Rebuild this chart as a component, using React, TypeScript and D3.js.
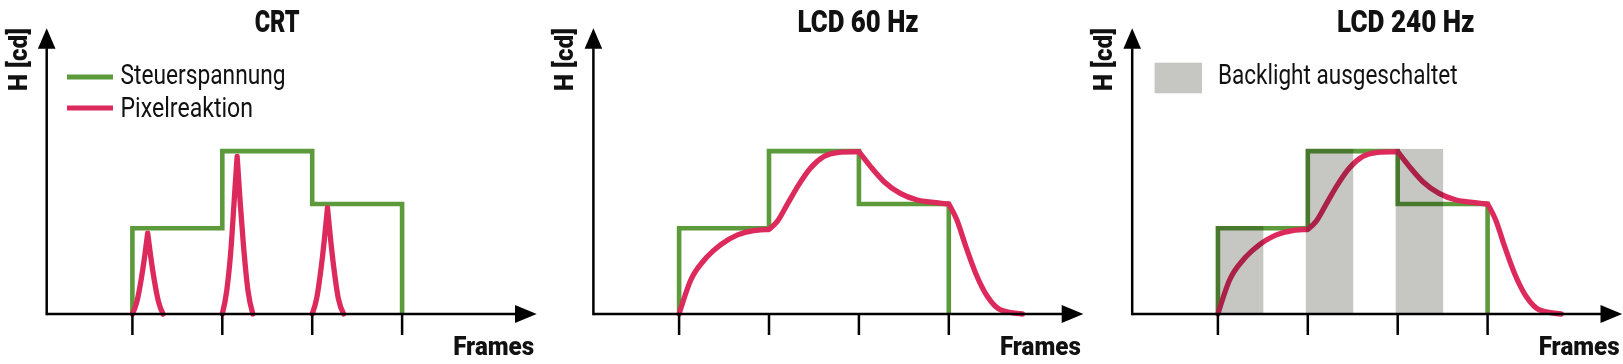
import React from "react";
import * as d3 from "d3";

// ---------- data ----------
const titles = ["CRT", "LCD 60 Hz", "LCD 240 Hz"];
const xLabel = "Frames";
const yLabel = "H [cd]";
const legendLabels = ["Steuerspannung", "Pixelreaktion"];
const backlightLabel = "Backlight ausgeschaltet";

const frameTicks = [1, 2, 3, 4];

// control voltage (step, value holds until next frame)
const steuerFrames = [1, 1, 2, 3, 4];
const steuerValues = [0, 30, 57, 38.5, 0];

// CRT pixel response: short spikes after each frame start (rise / fall segments)
const crtFrames = [
  [1.0, 1.05, 1.1, 1.135, 1.17],
  [1.17, 1.205, 1.24, 1.29, 1.34],
  [2.0, 2.05, 2.1, 2.13, 2.165],
  [2.165, 2.2, 2.235, 2.285, 2.34],
  [3.0, 3.05, 3.1, 3.135, 3.17],
  [3.17, 3.205, 3.24, 3.29, 3.35],
];
const crtValues = [
  [0, 4.3, 12.5, 19.8, 28.3],
  [28.3, 19.8, 12.5, 4.3, 0],
  [0, 8.3, 24.2, 38.6, 55.2],
  [55.2, 38.6, 24.2, 8.3, 0],
  [0, 5.5, 16.3, 26, 37.2],
  [37.2, 26, 16.3, 5.5, 0],
];

// LCD pixel response (same slow response in 60 Hz and 240 Hz)
const lcdFrames = [
  [1.0, 1.13, 1.28, 1.46, 1.65, 1.83, 2.0],
  [2.0, 2.09, 2.2, 2.33, 2.46, 2.61, 2.76, 3.0],
  [3.0, 3.13, 3.28, 3.46, 3.65, 3.83, 4.0],
  [4.0, 4.09, 4.19, 4.3, 4.43, 4.58, 4.82],
];
const lcdValues = [
  [0, 11.9, 18.9, 24.2, 27.7, 29.2, 29.6],
  [29.6, 32.3, 38.2, 45.2, 51.0, 55.1, 56.5, 56.8],
  [56.8, 51.6, 46.3, 42.2, 39.9, 39.1, 38.5],
  [38.5, 32.9, 23.6, 14.2, 6.1, 1.4, 0],
];

// backlight-off intervals (LCD 240 Hz)
const backlightStart = [1, 2, 3];
const backlightEnd = [1.5, 2.5, 3.5];
const backlightValues = [30, 57, 57];

// ---------- layout / style ----------
const W = 1623;
const H = 364;
const panelX = [46.7, 593.4, 1132.2];
const titleOffset = [208, 204.2, 204.9];
const titleLen = [45, 121, 137.4];
const baseY = 314;
const topY = 28.3;
const tick0 = 85.7;
const tickStep = 89.9;
const axisLen = 490;
const GREEN = "#5c9a3b";
const PINK = "#dd2a5d";
const GRAY = "#c6c7c3";
const FONT = "Roboto, 'Liberation Sans', sans-serif";

const y = d3.scaleLinear().domain([0, 100]).range([baseY, topY]);

function segPath(x: d3.ScaleLinear<number, number>, fr: number[][], vals: number[][]) {
  const line = d3
    .line<[number, number]>()
    .x((d) => x(d[0]))
    .y((d) => y(d[1]))
    .curve(d3.curveMonotoneX);
  return fr
    .map((f, i) => line(f.map((v, j) => [v, vals[i][j]] as [number, number])) || "")
    .join("");
}

function Panel({ idx }: { idx: number }) {
  const px = panelX[idx];
  const x = d3
    .scaleLinear()
    .domain([1, 4])
    .range([px + tick0, px + tick0 + 3 * tickStep]);

  const stepLine = d3
    .line<number>()
    .x((_, i) => x(steuerFrames[i]))
    .y((d) => y(d))
    .curve(d3.curveStepAfter);
  const steuerD = stepLine(steuerValues) || "";

  const pinkD =
    idx === 0 ? segPath(x, crtFrames, crtValues) : segPath(x, lcdFrames, lcdValues);

  const tipX = px + axisLen;
  return (
    <g>
      {/* title */}
      <text
        x={px + titleOffset[idx]}
        y={31.7}
        fontFamily={FONT}
        fontWeight={900}
        fontSize={32}
        textLength={titleLen[idx]}
        lengthAdjust="spacingAndGlyphs"
        fill="#111"
      >
        {titles[idx]}
      </text>

      {/* data lines */}
      <path d={steuerD} fill="none" stroke={GREEN} strokeWidth={4.6} />
      <path
        d={pinkD}
        fill="none"
        stroke={PINK}
        strokeWidth={5.3}
        strokeLinecap="round"
        strokeLinejoin="round"
      />

      {/* backlight-off bands */}
      {idx === 2 &&
        backlightStart.map((s, i) => (
          <rect
            key={i}
            x={x(s) - 2}
            y={y(backlightValues[i]) - 2.2}
            width={x(backlightEnd[i]) - x(s) + 2.5}
            height={baseY - y(backlightValues[i]) + 2.2}
            fill={GRAY}
            style={{ mixBlendMode: "multiply" }}
          />
        ))}

      {/* axes */}
      <line x1={px} x2={tipX - 20} y1={baseY} y2={baseY} stroke="#000" strokeWidth={2.5} />
      <line x1={px} x2={px} y1={baseY + 1.2} y2={topY + 20} stroke="#000" strokeWidth={2.5} />
      <polygon
        points={`${tipX},${baseY} ${tipX - 21.7},${baseY - 9} ${tipX - 21.7},${baseY + 9}`}
        fill="#000"
      />
      <polygon
        points={`${px},${topY} ${px - 8.8},${topY + 20.5} ${px + 8.8},${topY + 20.5}`}
        fill="#000"
      />
      {frameTicks.map((f) => (
        <line key={f} x1={x(f)} x2={x(f)} y1={baseY} y2={335} stroke="#000" strokeWidth={2.5} />
      ))}

      {/* axis labels */}
      <text
        x={tipX - 2.5}
        y={355}
        textAnchor="end"
        fontFamily={FONT}
        fontWeight={900}
        fontSize={26}
        textLength={81}
        lengthAdjust="spacingAndGlyphs"
        fill="#111"
      >
        {xLabel}
      </text>
      <text
        transform={`translate(${px - 20},91) rotate(-90)`}
        fontFamily={FONT}
        fontWeight={900}
        fontSize={26}
        textLength={63}
        lengthAdjust="spacingAndGlyphs"
        fill="#111"
      >
        {yLabel}
      </text>

      {/* legends */}
      {idx === 0 &&
        legendLabels.map((lab, i) => (
          <g key={lab}>
            <line
              x1={px + 20.3}
              x2={px + 66.3}
              y1={77 + i * 31}
              y2={77 + i * 31}
              stroke={i === 0 ? GREEN : PINK}
              strokeWidth={5}
            />
            <text
              x={px + 73.8}
              y={84 + i * 32.7}
              fontFamily={FONT}
              fontSize={27}
              textLength={i === 0 ? 165 : 132.5}
              lengthAdjust="spacingAndGlyphs"
              fill="#111"
            >
              {lab}
            </text>
          </g>
        ))}
      {idx === 2 && (
        <g>
          <rect x={px + 22.4} y={62.7} width={47.4} height={30.6} fill={GRAY} />
          <text
            x={px + 85.8}
            y={84}
            fontFamily={FONT}
            fontSize={27}
            textLength={239.6}
            lengthAdjust="spacingAndGlyphs"
            fill="#111"
          >
            {backlightLabel}
          </text>
        </g>
      )}
    </g>
  );
}

export default function App() {
  return (
    <div>
      <style>{"body{margin:0;background:#fff}"}</style>
      <svg width={W} height={H} style={{ display: "block", background: "#fff" }}>
        {titles.map((_, i) => (
          <Panel key={i} idx={i} />
        ))}
      </svg>
    </div>
  );
}
